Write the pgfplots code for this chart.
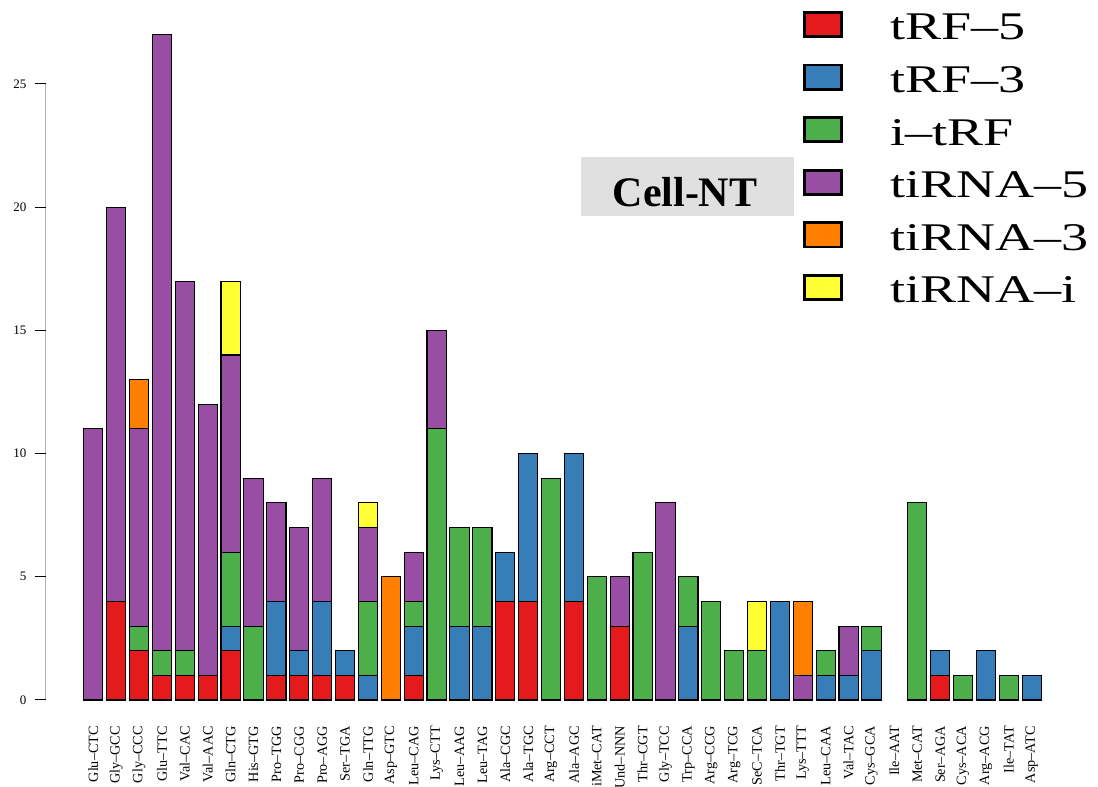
\documentclass[border=0pt]{standalone}
\usepackage{fontspec}
\setmainfont{Liberation Serif}
\usepackage{graphicx}
\usepackage{pgfplots}
\usepackage{pgfplotstable}
\pgfplotsset{compat=1.18}

\definecolor{s1red}{HTML}{E41A1C}
\definecolor{s1blue}{HTML}{377EB8}
\definecolor{s1green}{HTML}{4DAF4A}
\definecolor{s1purple}{HTML}{984EA3}
\definecolor{s1orange}{HTML}{FF7F00}
\definecolor{s1yellow}{HTML}{FFFF33}
\definecolor{cellgray}{RGB}{224,224,224}

% counts per tRNA: tRF-5, tRF-3, i-tRF, tiRNA-5, tiRNA-3, tiRNA-i
\pgfplotstableread{
x  tf5 tf3 itf ti5 ti3 tii
1  0 0 0  11 0 0
2  4 0 0  16 0 0
3  2 0 1  8  2 0
4  1 0 1  25 0 0
5  1 0 1  15 0 0
6  1 0 0  11 0 0
7  2 1 3  8  0 3
8  0 0 3  6  0 0
9  1 3 0  4  0 0
10 1 1 0  5  0 0
11 1 3 0  5  0 0
12 1 1 0  0  0 0
13 0 1 3  3  0 1
14 0 0 0  0  5 0
15 1 2 1  2  0 0
16 0 0 11 4  0 0
17 0 3 4  0  0 0
18 0 3 4  0  0 0
19 4 2 0  0  0 0
20 4 6 0  0  0 0
21 0 0 9  0  0 0
22 4 6 0  0  0 0
23 0 0 5  0  0 0
24 3 0 0  2  0 0
25 0 0 6  0  0 0
26 0 0 0  8  0 0
27 0 3 2  0  0 0
28 0 0 4  0  0 0
29 0 0 2  0  0 0
30 0 0 2  0  0 2
31 0 4 0  0  0 0
32 0 0 0  1  3 0
33 0 1 1  0  0 0
34 0 1 0  2  0 0
35 0 2 1  0  0 0
36 0 0 0  0  0 0
37 0 0 8  0  0 0
38 1 1 0  0  0 0
39 0 0 1  0  0 0
40 0 2 0  0  0 0
41 0 0 1  0  0 0
42 0 1 0  0  0 0
}\counts

\pgfplotsset{
  legbox/.style={legend image code/.code={
    \draw[##1,draw=black,line width=1.4pt] (0.7pt,1.7pt) rectangle (19.3pt,13.8pt);
    \path[draw=none,fill=none] (0pt,0pt) -- (43.5pt,0pt);}},
}

\begin{document}
\begin{tikzpicture}[x=1pt,y=1pt]
\useasboundingbox (0,0) rectangle (549,393.5);
\begin{axis}[
  at={(22.85pt,30.2pt)}, anchor=south west,
  scale only axis, width=516.8pt, height=359.25pt,
  xmin=-1.08, xmax=44.08, ymin=-1.08, ymax=28.08,
  ybar stacked, bar width=0.84,
  axis line style={draw=none},
  tick pos=left,
  xtick=data,
  xticklabels={Glu–CTC,Gly–GCC,Gly–CCC,Glu–TTC,Val–CAC,Val–AAC,Gln–CTG,His–GTG,Pro–TGG,Pro–CGG,Pro–AGG,Ser–TGA,Gln–TTG,Asp–GTC,Leu–CAG,Lys–CTT,Leu–AAG,Leu–TAG,Ala–CGC,Ala–TGC,Arg–CCT,Ala–AGC,iMet–CAT,Und–NNN,Thr–CGT,Gly–TCC,Trp–CCA,Arg–CCG,Arg–TCG,SeC–TCA,Thr–TGT,Lys–TTT,Leu–CAA,Val–TAC,Cys–GCA,Ile–AAT,Met–CAT,Ser–AGA,Cys–ACA,Arg–ACG,Ile–TAT,Asp–ATC},
  xtick style={draw=none},
  xticklabel shift=-5.9pt,
  xticklabel style={rotate=90, anchor=east, inner sep=0pt, font=\fontsize{7.1}{8}\selectfont},
  ytick={0,5,10,15,20,25},
  tick align=outside, major tick length=5.5pt,
  ytick style={black, line width=0.5pt},
  yticklabel style={anchor=east, inner sep=0pt, xshift=-4pt, font=\fontsize{6.5}{7}\selectfont},
  /pgf/number format/assume math mode=true,
  every axis plot/.append style={draw=black, line width=0.55pt},
  every axis plot post/.append style={legbox},
  legend style={at={(0.7327,0.996)}, anchor=north west, draw=none, fill=none,
    inner sep=0pt, outer sep=0pt, row sep=11.8pt,
    cells={anchor=base west}, nodes={inner sep=0pt, text depth=0pt},
    font=\fontsize{19.6}{23}\selectfont},
]
\addplot[fill=s1red, legbox] table[x=x, y=tf5] {\counts};
\addlegendentry{\scalebox{1.38}[1]{tRF–5}}
\addplot[fill=s1blue, legbox] table[x=x, y=tf3] {\counts};
\addlegendentry{\scalebox{1.38}[1]{tRF–3}}
\addplot[fill=s1green, legbox] table[x=x, y=itf] {\counts};
\addlegendentry{\scalebox{1.38}[1]{i–tRF}}
\addplot[fill=s1purple, legbox] table[x=x, y=ti5] {\counts};
\addlegendentry{\scalebox{1.38}[1]{tiRNA–5}}
\addplot[fill=s1orange, legbox] table[x=x, y=ti3] {\counts};
\addlegendentry{\scalebox{1.38}[1]{tiRNA–3}}
\addplot[fill=s1yellow, legbox] table[x=x, y=tii] {\counts};
\addlegendentry{\scalebox{1.38}[1]{tiRNA–i}}
\draw[black!85, line width=0.5pt] (axis cs:-1.08,0) -- (axis cs:-1.08,25);
\end{axis}
\fill[cellgray] (290.5,285.5) rectangle (397,315);
\node[anchor=base, inner sep=0pt, font=\bfseries\fontsize{21}{24}\selectfont] at (342.5,290) {Cell-NT};
\end{tikzpicture}
\end{document}
